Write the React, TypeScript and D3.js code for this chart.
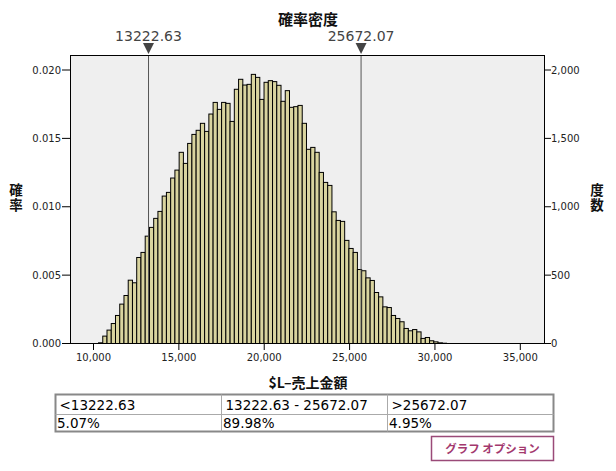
import React from "react";
import * as d3 from "d3";

// Histogram counts per bin (frequency, right axis)
const counts = [
  5, 54, 98, 146, 205, 288, 351, 463, 444, 629, 666, 785, 849, 915, 966, 1078, 1105, 1210, 1268, 1398, 1317,
  1463, 1529, 1559, 1610, 1551, 1678, 1763, 1712, 1763, 1756, 1624, 1859, 1932, 1890, 1895, 1968, 1946, 1785, 1910, 1922,
  1915, 1888, 1771, 1849, 1727, 1732, 1741, 1610, 1420, 1434, 1398, 1251, 1178, 1156, 963, 900, 893, 754, 695, 666, 541,
  532, 480, 461, 373, 341, 268, 263, 205, 183, 159, 110, 93, 102, 85, 37, 44, 20, 12, 5, 2,
];
const binStart = [10293];
const binWidth = [248.6];
const xDomain = [8652, 36417];
const xTicks = [10000, 15000, 20000, 25000, 30000, 35000];
const densityTicks = [0, 0.005, 0.01, 0.015, 0.02];
const countTicks = [0, 500, 1000, 1500, 2000];
const markers = [13222.63, 25672.07];
const tableHeaders = ["<13222.63", "13222.63 - 25672.07", ">25672.07"];
const tableValues = ["5.07%", "89.98%", "4.95%"];

const title = "確率密度";
const xTitle = "$L–売上金額";
const leftTitle = "確率";
const rightTitle = "度数";
const buttonLabel = "グラフ オプション";

const W = 616;
const H = 471;
const L = 70.5, R = 544.5, T = 55.5, B = 343.5;
const NUM_FONT = "'DejaVu Sans', sans-serif";
const CJK_FONT = "'Noto Sans CJK JP', sans-serif";

export default function App() {
  const x = d3.scaleLinear().domain(xDomain).range([L, R]);
  const yc = d3.scaleLinear().domain([0, 2000]).range([B, 70]);
  const yd = d3.scaleLinear().domain([0, 0.02]).range([B, 70]);
  const fmtD = d3.format(".3f");
  const fmtC = d3.format(",");

  const tableX = [55.5, 221.5, 387.5, 553.5];
  const tableY = [394.5, 414.5, 431.5];

  return (
    <svg width={W} height={H} style={{ position: "absolute", left: 0, top: 0, background: "#fff" }}>
      <text x={308} y={25} textAnchor="middle" fontFamily={CJK_FONT} fontWeight="bold" fontSize={15} fill="#111">
        {title}
      </text>

      {/* plot background */}
      <rect x={L} y={T} width={R - L} height={B - T} fill="#efefef" />

      {/* bars */}
      {counts.map((c, i) => {
        const x0 = x(binStart[0] + i * binWidth[0]);
        const x1 = x(binStart[0] + (i + 1) * binWidth[0]);
        return (
          <rect key={i} x={x0} y={yc(c)} width={x1 - x0} height={B - yc(c)} fill="#d9d49f" stroke="#000" strokeWidth={1} />
        );
      })}

      {/* markers */}
      {markers.map((m, i) => (
        <g key={i}>
          <line x1={x(m)} x2={x(m)} y1={T} y2={B} stroke="#555" strokeWidth={1} />
          <path d={`M${x(m) - 5.5},${43} L${x(m) + 5.5},${43} L${x(m)},${54} Z`} fill="#444" />
          <text x={x(m)} y={41} textAnchor="middle" fontFamily={NUM_FONT} fontSize={14} fill="#444">
            {m.toFixed(2)}
          </text>
        </g>
      ))}

      {/* frame */}
      <rect x={L} y={T} width={R - L} height={B - T} fill="none" stroke="#000" strokeWidth={1} />

      {/* left axis */}
      {densityTicks.map((t) => (
        <g key={t}>
          <line x1={62} x2={L} y1={yd(t)} y2={yd(t)} stroke="#000" />
          <text x={61} y={yd(t) + 3.5} textAnchor="end" fontFamily={NUM_FONT} fontSize={10} fill="#222">
            {fmtD(t)}
          </text>
        </g>
      ))}
      {/* right axis */}
      {countTicks.map((t) => (
        <g key={t}>
          <line x1={R} x2={551} y1={yc(t)} y2={yc(t)} stroke="#000" />
          <text x={551} y={yc(t) + 3.5} textAnchor="start" fontFamily={NUM_FONT} fontSize={10} fill="#222">
            {fmtC(t)}
          </text>
        </g>
      ))}
      {/* bottom axis */}
      {xTicks.map((t) => (
        <g key={t}>
          <line x1={x(t)} x2={x(t)} y1={B} y2={350} stroke="#000" />
          <text x={x(t)} y={361} textAnchor="middle" fontFamily={NUM_FONT} fontSize={10} fill="#222">
            {fmtC(t)}
          </text>
        </g>
      ))}

      {/* axis titles */}
      <text x={308} y={388} textAnchor="middle" fontFamily={CJK_FONT} fontWeight="bold" fontSize={14} fill="#111">
        {xTitle}
      </text>
      <text x={16} y={183} writingMode="vertical-rl" letterSpacing={1.5} fontFamily={CJK_FONT} fontWeight="bold" fontSize={13.5} fill="#111">
        {leftTitle}
      </text>
      <text x={597} y={183} writingMode="vertical-rl" letterSpacing={1.5} fontFamily={CJK_FONT} fontWeight="bold" fontSize={13.5} fill="#111">
        {rightTitle}
      </text>

      {/* table */}
      <rect x={tableX[0]} y={tableY[0]} width={tableX[3] - tableX[0]} height={tableY[2] - tableY[0]} fill="#fff" stroke="#888" strokeWidth={2} />
      <line x1={tableX[0]} x2={tableX[3]} y1={tableY[1]} y2={tableY[1]} stroke="#aaa" />
      {[1, 2].map((k) => (
        <line key={k} x1={tableX[k]} x2={tableX[k]} y1={tableY[0]} y2={tableY[2]} stroke="#aaa" />
      ))}
      {tableHeaders.map((h, i) => (
        <text key={i} x={tableX[i] + 4} y={410} fontFamily={NUM_FONT} fontSize={13.5} fill="#000">
          {h}
        </text>
      ))}
      {tableValues.map((v, i) => (
        <text key={i} x={tableX[i] + 1.5} y={428} fontFamily={NUM_FONT} fontSize={13.5} fill="#000">
          {v}
        </text>
      ))}

      {/* button */}
      <rect x={431.5} y={436.5} width={122} height={24} fill="#fff" stroke="#9a4a78" strokeWidth={1.5} />
      <text x={492.5} y={453} textAnchor="middle" fontFamily={CJK_FONT} fontWeight="bold" fontSize={11.5} fill="#a3386e">
        {buttonLabel}
      </text>
    </svg>
  );
}
